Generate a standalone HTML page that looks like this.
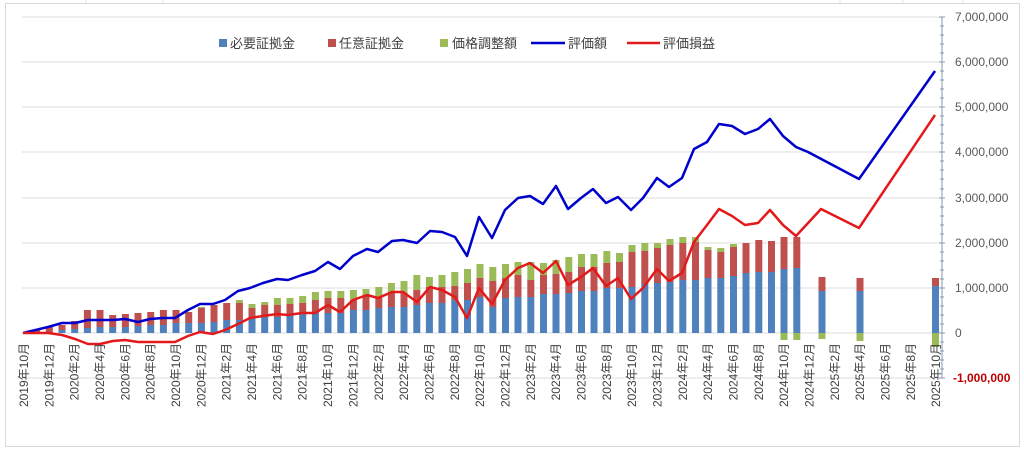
<!DOCTYPE html>
<html><head><meta charset="utf-8"><style>
html,body{margin:0;padding:0;background:#fff;}
svg{display:block;}
text{font-family:"Liberation Sans","Noto Sans CJK JP",sans-serif;}
</style></head><body>
<svg width="1024" height="452" viewBox="0 0 1024 452" xmlns="http://www.w3.org/2000/svg">
<rect x="0" y="0" width="1024" height="452" fill="#fff"/>
<g stroke="#e6e6e6" stroke-width="1"><line x1="86" y1="0" x2="86" y2="3"/><line x1="163" y1="0" x2="163" y2="3"/><line x1="840" y1="0" x2="840" y2="3"/><line x1="903" y1="0" x2="903" y2="3"/><line x1="963" y1="0" x2="963" y2="3"/></g>
<rect x="5.5" y="3.5" width="1014" height="443" fill="none" stroke="#d9d9d9"/>
<g stroke="#dedede" stroke-width="1">
<line x1="22" y1="17" x2="942" y2="17"/><line x1="22" y1="62" x2="942" y2="62"/><line x1="22" y1="107" x2="942" y2="107"/><line x1="22" y1="152" x2="942" y2="152"/><line x1="22" y1="198" x2="942" y2="198"/><line x1="22" y1="243" x2="942" y2="243"/><line x1="22" y1="288" x2="942" y2="288"/><line x1="22" y1="333" x2="942" y2="333"/><line x1="22" y1="378" x2="942" y2="378"/>
</g>
<line x1="942" y1="17" x2="942" y2="378" stroke="#8497b0" stroke-width="1"/>
<g stroke="#8497b0" stroke-width="1">
<line x1="939" y1="17" x2="945" y2="17"/><line x1="940" y1="26" x2="944" y2="26"/><line x1="940" y1="35" x2="944" y2="35"/><line x1="940" y1="44" x2="944" y2="44"/><line x1="940" y1="53" x2="944" y2="53"/>
<line x1="939" y1="62" x2="945" y2="62"/><line x1="940" y1="71" x2="944" y2="71"/><line x1="940" y1="80" x2="944" y2="80"/><line x1="940" y1="89" x2="944" y2="89"/><line x1="940" y1="98" x2="944" y2="98"/>
<line x1="939" y1="107" x2="945" y2="107"/><line x1="940" y1="116" x2="944" y2="116"/><line x1="940" y1="125" x2="944" y2="125"/><line x1="940" y1="134" x2="944" y2="134"/><line x1="940" y1="143" x2="944" y2="143"/>
<line x1="939" y1="152" x2="945" y2="152"/><line x1="940" y1="161" x2="944" y2="161"/><line x1="940" y1="170" x2="944" y2="170"/><line x1="940" y1="179" x2="944" y2="179"/><line x1="940" y1="189" x2="944" y2="189"/>
<line x1="939" y1="198" x2="945" y2="198"/><line x1="940" y1="207" x2="944" y2="207"/><line x1="940" y1="216" x2="944" y2="216"/><line x1="940" y1="225" x2="944" y2="225"/><line x1="940" y1="234" x2="944" y2="234"/>
<line x1="939" y1="243" x2="945" y2="243"/><line x1="940" y1="252" x2="944" y2="252"/><line x1="940" y1="261" x2="944" y2="261"/><line x1="940" y1="270" x2="944" y2="270"/><line x1="940" y1="279" x2="944" y2="279"/>
<line x1="939" y1="288" x2="945" y2="288"/><line x1="940" y1="297" x2="944" y2="297"/><line x1="940" y1="306" x2="944" y2="306"/><line x1="940" y1="315" x2="944" y2="315"/><line x1="940" y1="324" x2="944" y2="324"/>
<line x1="939" y1="333" x2="945" y2="333"/><line x1="940" y1="342" x2="944" y2="342"/><line x1="940" y1="351" x2="944" y2="351"/><line x1="940" y1="360" x2="944" y2="360"/><line x1="940" y1="369" x2="944" y2="369"/><line x1="939" y1="378" x2="945" y2="378"/>
</g>
<g font-size="12" fill="#595959">
<text x="955" y="21">7,000,000</text><text x="955" y="66">6,000,000</text><text x="955" y="111">5,000,000</text><text x="955" y="156">4,000,000</text><text x="955" y="202">3,000,000</text><text x="955" y="247">2,000,000</text><text x="955" y="292">1,000,000</text><text x="955" y="337">0</text>
<text x="953" y="382" fill="#c00000" font-weight="bold">-1,000,000</text>
</g>
<!-- bars -->
<g>
<!-- i1,i2 -->
<rect x="33.2" y="330" width="7" height="3" fill="#c0504d"/>
<rect x="45.8" y="326" width="7" height="7" fill="#c0504d"/>
<rect x="58.5" y="330" width="7" height="3" fill="#4f81bd"/><rect x="58.5" y="325" width="7" height="5" fill="#c0504d"/>
<rect x="71.2" y="329" width="7" height="4" fill="#4f81bd"/><rect x="71.2" y="321" width="7" height="8" fill="#c0504d"/>
<rect x="83.9" y="328" width="7" height="5" fill="#4f81bd"/><rect x="83.9" y="310" width="7" height="18" fill="#c0504d"/>
<rect x="96.5" y="327" width="7" height="6" fill="#4f81bd"/><rect x="96.5" y="310" width="7" height="17" fill="#c0504d"/>
<rect x="109.2" y="327" width="7" height="6" fill="#4f81bd"/><rect x="109.2" y="315" width="7" height="12" fill="#c0504d"/>
<rect x="121.9" y="327" width="7" height="6" fill="#4f81bd"/><rect x="121.9" y="314" width="7" height="13" fill="#c0504d"/>
<rect x="134.5" y="326" width="7" height="7" fill="#4f81bd"/><rect x="134.5" y="313" width="7" height="13" fill="#c0504d"/>
<rect x="147.2" y="325" width="7" height="8" fill="#4f81bd"/><rect x="147.2" y="312" width="7" height="13" fill="#c0504d"/>
<rect x="159.9" y="325" width="7" height="8" fill="#4f81bd"/><rect x="159.9" y="310" width="7" height="15" fill="#c0504d"/>
<rect x="172.5" y="323" width="7" height="10" fill="#4f81bd"/><rect x="172.5" y="310" width="7" height="13" fill="#c0504d"/>
<rect x="185.2" y="323" width="7" height="10" fill="#4f81bd"/><rect x="185.2" y="312" width="7" height="11" fill="#c0504d"/>
<rect x="197.9" y="323" width="7" height="10" fill="#4f81bd"/><rect x="197.9" y="308" width="7" height="15" fill="#c0504d"/><rect x="197.9" y="307" width="7" height="1" fill="#9bbb59"/>
<rect x="210.5" y="322" width="7" height="11" fill="#4f81bd"/><rect x="210.5" y="305" width="7" height="17" fill="#c0504d"/>
<rect x="223.2" y="320" width="7" height="13" fill="#4f81bd"/><rect x="223.2" y="303" width="7" height="17" fill="#c0504d"/>
<rect x="235.9" y="320" width="7" height="13" fill="#4f81bd"/><rect x="235.9" y="303" width="7" height="17" fill="#c0504d"/><rect x="235.9" y="300" width="7" height="3" fill="#9bbb59"/>
<rect x="248.5" y="318" width="7" height="15" fill="#4f81bd"/><rect x="248.5" y="308" width="7" height="10" fill="#c0504d"/><rect x="248.5" y="304" width="7" height="4" fill="#9bbb59"/>
<rect x="261.2" y="317" width="7" height="16" fill="#4f81bd"/><rect x="261.2" y="305" width="7" height="12" fill="#c0504d"/><rect x="261.2" y="302" width="7" height="3" fill="#9bbb59"/>
<rect x="273.9" y="317" width="7" height="16" fill="#4f81bd"/><rect x="273.9" y="305" width="7" height="12" fill="#c0504d"/><rect x="273.9" y="298" width="7" height="7" fill="#9bbb59"/>
<rect x="286.5" y="315" width="7" height="18" fill="#4f81bd"/><rect x="286.5" y="304" width="7" height="11" fill="#c0504d"/><rect x="286.5" y="298" width="7" height="6" fill="#9bbb59"/>
<rect x="299.2" y="314" width="7" height="19" fill="#4f81bd"/><rect x="299.2" y="303" width="7" height="11" fill="#c0504d"/><rect x="299.2" y="296" width="7" height="7" fill="#9bbb59"/>
<rect x="311.9" y="313" width="7" height="20" fill="#4f81bd"/><rect x="311.9" y="300" width="7" height="13" fill="#c0504d"/><rect x="311.9" y="292" width="7" height="8" fill="#9bbb59"/>
<rect x="324.5" y="313" width="7" height="20" fill="#4f81bd"/><rect x="324.5" y="298" width="7" height="15" fill="#c0504d"/><rect x="324.5" y="291" width="7" height="7" fill="#9bbb59"/>
<rect x="337.3" y="313" width="7" height="20" fill="#4f81bd"/><rect x="337.3" y="298" width="7" height="15" fill="#c0504d"/><rect x="337.3" y="291" width="7" height="7" fill="#9bbb59"/>
<rect x="349.9" y="310" width="7" height="23" fill="#4f81bd"/><rect x="349.9" y="300" width="7" height="10" fill="#c0504d"/><rect x="349.9" y="290" width="7" height="10" fill="#9bbb59"/>
<rect x="362.5" y="310" width="7" height="23" fill="#4f81bd"/><rect x="362.5" y="295" width="7" height="15" fill="#c0504d"/><rect x="362.5" y="289" width="7" height="6" fill="#9bbb59"/>
<rect x="375.3" y="308" width="7" height="25" fill="#4f81bd"/><rect x="375.3" y="297" width="7" height="11" fill="#c0504d"/><rect x="375.3" y="287" width="7" height="10" fill="#9bbb59"/>
<rect x="387.9" y="307" width="7" height="26" fill="#4f81bd"/><rect x="387.9" y="293" width="7" height="14" fill="#c0504d"/><rect x="387.9" y="283" width="7" height="10" fill="#9bbb59"/>
<rect x="400.5" y="307" width="7" height="26" fill="#4f81bd"/><rect x="400.5" y="293" width="7" height="14" fill="#c0504d"/><rect x="400.5" y="281" width="7" height="12" fill="#9bbb59"/>
<rect x="413.3" y="305" width="7" height="28" fill="#4f81bd"/><rect x="413.3" y="290" width="7" height="15" fill="#c0504d"/><rect x="413.3" y="275" width="7" height="15" fill="#9bbb59"/>
<rect x="425.9" y="303" width="7" height="30" fill="#4f81bd"/><rect x="425.9" y="287" width="7" height="16" fill="#c0504d"/><rect x="425.9" y="277" width="7" height="10" fill="#9bbb59"/>
<rect x="438.5" y="303" width="7" height="30" fill="#4f81bd"/><rect x="438.5" y="287" width="7" height="16" fill="#c0504d"/><rect x="438.5" y="275" width="7" height="12" fill="#9bbb59"/>
<rect x="451.3" y="300" width="7" height="33" fill="#4f81bd"/><rect x="451.3" y="286" width="7" height="14" fill="#c0504d"/><rect x="451.3" y="272" width="7" height="14" fill="#9bbb59"/>
<rect x="464" y="300" width="7" height="33" fill="#4f81bd"/><rect x="464" y="283" width="7" height="17" fill="#c0504d"/><rect x="464" y="269" width="7" height="14" fill="#9bbb59"/>
<rect x="476.5" y="297" width="7" height="36" fill="#4f81bd"/><rect x="476.5" y="278" width="7" height="19" fill="#c0504d"/><rect x="476.5" y="264" width="7" height="14" fill="#9bbb59"/>
<rect x="489.3" y="307" width="7" height="26" fill="#4f81bd"/><rect x="489.3" y="281" width="7" height="26" fill="#c0504d"/><rect x="489.3" y="267" width="7" height="14" fill="#9bbb59"/>
<rect x="502" y="298" width="7" height="35" fill="#4f81bd"/><rect x="502" y="278" width="7" height="20" fill="#c0504d"/><rect x="502" y="264" width="7" height="14" fill="#9bbb59"/>
<rect x="514.5" y="297" width="7" height="36" fill="#4f81bd"/><rect x="514.5" y="275" width="7" height="22" fill="#c0504d"/><rect x="514.5" y="262" width="7" height="13" fill="#9bbb59"/>
<rect x="527.3" y="297" width="7" height="36" fill="#4f81bd"/><rect x="527.3" y="280" width="7" height="17" fill="#c0504d"/><rect x="527.3" y="262" width="7" height="18" fill="#9bbb59"/>
<rect x="540" y="294" width="7" height="39" fill="#4f81bd"/><rect x="540" y="275" width="7" height="19" fill="#c0504d"/><rect x="540" y="263" width="7" height="12" fill="#9bbb59"/>
<rect x="552.5" y="294" width="7" height="39" fill="#4f81bd"/><rect x="552.5" y="274" width="7" height="20" fill="#c0504d"/><rect x="552.5" y="260" width="7" height="14" fill="#9bbb59"/>
<rect x="565.3" y="293" width="7" height="40" fill="#4f81bd"/><rect x="565.3" y="272" width="7" height="21" fill="#c0504d"/><rect x="565.3" y="257" width="7" height="15" fill="#9bbb59"/>
<rect x="578" y="291" width="7" height="42" fill="#4f81bd"/><rect x="578" y="267" width="7" height="24" fill="#c0504d"/><rect x="578" y="254" width="7" height="13" fill="#9bbb59"/>
<rect x="590.5" y="291" width="7" height="42" fill="#4f81bd"/><rect x="590.5" y="267" width="7" height="24" fill="#c0504d"/><rect x="590.5" y="254" width="7" height="13" fill="#9bbb59"/>
<rect x="603.3" y="288" width="7" height="45" fill="#4f81bd"/><rect x="603.3" y="263" width="7" height="25" fill="#c0504d"/><rect x="603.3" y="251" width="7" height="12" fill="#9bbb59"/>
<rect x="616" y="288" width="7" height="45" fill="#4f81bd"/><rect x="616" y="262" width="7" height="26" fill="#c0504d"/><rect x="616" y="253" width="7" height="9" fill="#9bbb59"/>
<rect x="628.5" y="287" width="7" height="46" fill="#4f81bd"/><rect x="628.5" y="252" width="7" height="35" fill="#c0504d"/><rect x="628.5" y="245" width="7" height="7" fill="#9bbb59"/>
<rect x="641.3" y="284" width="7" height="49" fill="#4f81bd"/><rect x="641.3" y="251" width="7" height="33" fill="#c0504d"/><rect x="641.3" y="243" width="7" height="8" fill="#9bbb59"/>
<rect x="654" y="283" width="7" height="50" fill="#4f81bd"/><rect x="654" y="248" width="7" height="35" fill="#c0504d"/><rect x="654" y="243" width="7" height="5" fill="#9bbb59"/>
<rect x="666.5" y="282" width="7" height="51" fill="#4f81bd"/><rect x="666.5" y="245" width="7" height="37" fill="#c0504d"/><rect x="666.5" y="239" width="7" height="6" fill="#9bbb59"/>
<rect x="679.3" y="280" width="7" height="53" fill="#4f81bd"/><rect x="679.3" y="243" width="7" height="37" fill="#c0504d"/><rect x="679.3" y="237" width="7" height="6" fill="#9bbb59"/>
<rect x="692" y="280" width="7" height="53" fill="#4f81bd"/><rect x="692" y="242" width="7" height="38" fill="#c0504d"/><rect x="692" y="237" width="7" height="5" fill="#9bbb59"/>
<rect x="704.5" y="278" width="7" height="55" fill="#4f81bd"/><rect x="704.5" y="250" width="7" height="28" fill="#c0504d"/><rect x="704.5" y="247" width="7" height="3" fill="#9bbb59"/>
<rect x="717.3" y="278" width="7" height="55" fill="#4f81bd"/><rect x="717.3" y="252" width="7" height="26" fill="#c0504d"/><rect x="717.3" y="248" width="7" height="4" fill="#9bbb59"/>
<rect x="730" y="276" width="7" height="57" fill="#4f81bd"/><rect x="730" y="247" width="7" height="29" fill="#c0504d"/><rect x="730" y="244" width="7" height="3" fill="#9bbb59"/>
<rect x="742.5" y="273" width="7" height="60" fill="#4f81bd"/><rect x="742.5" y="243" width="7" height="30" fill="#c0504d"/>
<rect x="755.3" y="272" width="7" height="61" fill="#4f81bd"/><rect x="755.3" y="240" width="7" height="32" fill="#c0504d"/>
<rect x="768" y="272" width="7" height="61" fill="#4f81bd"/><rect x="768" y="241" width="7" height="31" fill="#c0504d"/>
<rect x="780.5" y="269" width="7" height="64" fill="#4f81bd"/><rect x="780.5" y="237" width="7" height="32" fill="#c0504d"/><rect x="780.5" y="333" width="7" height="7" fill="#9bbb59"/>
<rect x="793.3" y="268" width="7" height="65" fill="#4f81bd"/><rect x="793.3" y="237" width="7" height="31" fill="#c0504d"/><rect x="793.3" y="333" width="7" height="7" fill="#9bbb59"/>
<rect x="818.5" y="291" width="7" height="42" fill="#4f81bd"/><rect x="818.5" y="277" width="7" height="14" fill="#c0504d"/><rect x="818.5" y="333" width="7" height="6" fill="#9bbb59"/>
<rect x="856.5" y="291" width="7" height="42" fill="#4f81bd"/><rect x="856.5" y="278" width="7" height="13" fill="#c0504d"/><rect x="856.5" y="333" width="7" height="8" fill="#9bbb59"/>
<rect x="932" y="286" width="7" height="47" fill="#4f81bd"/><rect x="932" y="278" width="7" height="8" fill="#c0504d"/><rect x="932" y="333" width="7" height="14" fill="#9bbb59"/>
</g>
<!-- lines -->
<polyline fill="none" stroke="#0000cc" stroke-width="2.5" stroke-linejoin="round" points="23,333 48,327 62,323 75,323 88,320 100,320 113,320 125,319 138,322 150,319 163,318 175,318 188,310 200,304 213,304 225,300 238,291 250,288 263,283 277,279 288,280 302,275 315,271 328,262 340,269 353,256 367,249 378,252 392,241 403,240 417,243 430,231 442,232 455,237 467,256 479,217 492,238 505,210 518,198 530,196 543,204 556,186 568,209 581,198 593,189 606,203 618,197 631,210 643,198 657,178 669,187 682,178 694,149 707,142 719,124 732,126 745,134 758,129 770,119 783,136 796,147 808,152 859,179 935,71"/>
<polyline fill="none" stroke="#e31a1c" stroke-width="2.5" stroke-linejoin="round" points="23,333 48,333 62,335 75,339 88,344 100,344 113,341 125,340 138,342 150,342 163,342 175,342 188,336 200,332 213,334 225,330 238,324 250,318 263,316 277,314 288,315 302,313 315,313 328,305 340,312 353,300 367,295 378,298 392,292 403,292 417,302 430,287 442,290 455,297 467,318 479,288 492,304 505,280 518,268 530,263 543,273 556,261 568,285 581,277 593,268 606,286 618,278 631,299 643,288 657,269 669,281 682,273 694,242 707,225 719,209 732,216 745,225 758,223 770,210 783,225 796,236 821,209 859,228 935,115"/>
<!-- legend -->
<g font-size="13" fill="#404040">
<rect x="219" y="39" width="8" height="8" fill="#4f81bd"/><text x="230" y="48">必要証拠金</text>
<rect x="328" y="39" width="8" height="8" fill="#c0504d"/><text x="339" y="48">任意証拠金</text>
<rect x="440" y="39" width="8" height="8" fill="#9bbb59"/><text x="452" y="48">価格調整額</text>
<line x1="531" y1="43" x2="565" y2="43" stroke="#0000cc" stroke-width="2.5"/><text x="568" y="48">評価額</text>
<line x1="627" y1="43" x2="660" y2="43" stroke="#e31a1c" stroke-width="2.5"/><text x="663" y="48">評価損益</text>
</g>
<!-- x labels -->
<g font-size="12" fill="#404040" text-anchor="end">
<text transform="translate(28,343) rotate(-90)">2019年10月</text>
<text transform="translate(53.3,343) rotate(-90)">2019年12月</text>
<text transform="translate(78.7,343) rotate(-90)">2020年2月</text>
<text transform="translate(104,343) rotate(-90)">2020年4月</text>
<text transform="translate(129.4,343) rotate(-90)">2020年6月</text>
<text transform="translate(154.7,343) rotate(-90)">2020年8月</text>
<text transform="translate(180,343) rotate(-90)">2020年10月</text>
<text transform="translate(205.4,343) rotate(-90)">2020年12月</text>
<text transform="translate(230.7,343) rotate(-90)">2021年2月</text>
<text transform="translate(256,343) rotate(-90)">2021年4月</text>
<text transform="translate(281.4,343) rotate(-90)">2021年6月</text>
<text transform="translate(306.7,343) rotate(-90)">2021年8月</text>
<text transform="translate(332,343) rotate(-90)">2021年10月</text>
<text transform="translate(357.4,343) rotate(-90)">2021年12月</text>
<text transform="translate(382.8,343) rotate(-90)">2022年2月</text>
<text transform="translate(408,343) rotate(-90)">2022年4月</text>
<text transform="translate(433.4,343) rotate(-90)">2022年6月</text>
<text transform="translate(458.8,343) rotate(-90)">2022年8月</text>
<text transform="translate(484,343) rotate(-90)">2022年10月</text>
<text transform="translate(509.5,343) rotate(-90)">2022年12月</text>
<text transform="translate(534.8,343) rotate(-90)">2023年2月</text>
<text transform="translate(560,343) rotate(-90)">2023年4月</text>
<text transform="translate(585.5,343) rotate(-90)">2023年6月</text>
<text transform="translate(610.8,343) rotate(-90)">2023年8月</text>
<text transform="translate(636,343) rotate(-90)">2023年10月</text>
<text transform="translate(661.5,343) rotate(-90)">2023年12月</text>
<text transform="translate(686.8,343) rotate(-90)">2024年2月</text>
<text transform="translate(712,343) rotate(-90)">2024年4月</text>
<text transform="translate(737.5,343) rotate(-90)">2024年6月</text>
<text transform="translate(762.8,343) rotate(-90)">2024年8月</text>
<text transform="translate(788,343) rotate(-90)">2024年10月</text>
<text transform="translate(813.5,343) rotate(-90)">2024年12月</text>
<text transform="translate(838.8,343) rotate(-90)">2025年2月</text>
<text transform="translate(864,343) rotate(-90)">2025年4月</text>
<text transform="translate(889.5,343) rotate(-90)">2025年6月</text>
<text transform="translate(914.8,343) rotate(-90)">2025年8月</text>
<text transform="translate(940,343) rotate(-90)">2025年10月</text>
</g>
</svg>
</body></html>
